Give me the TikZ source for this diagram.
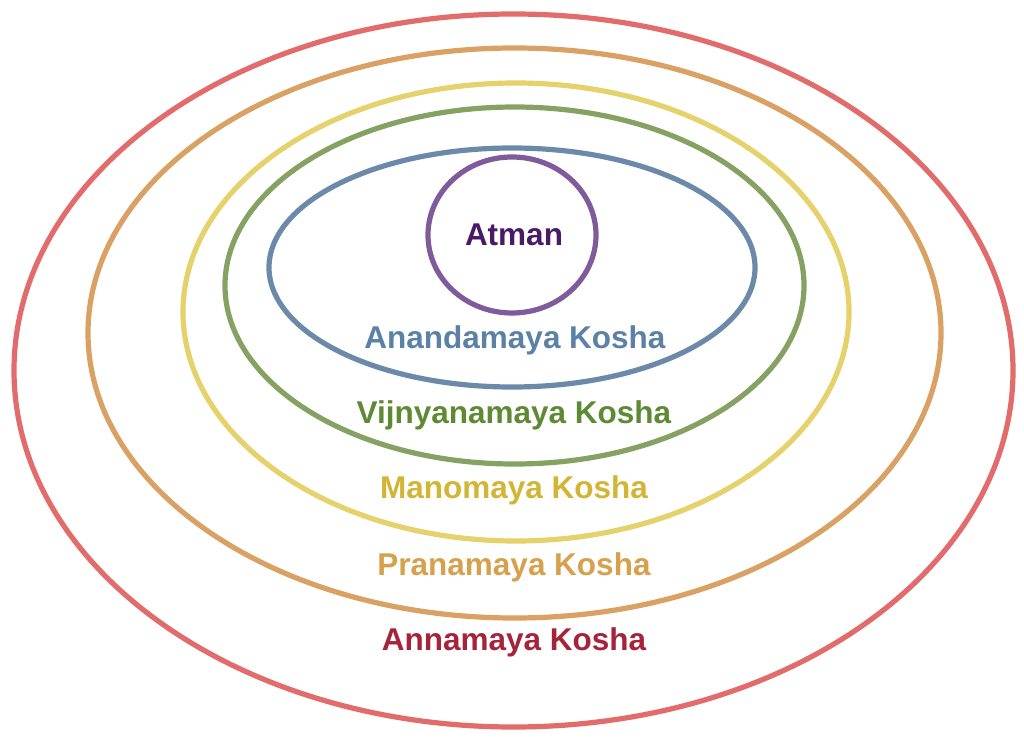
\documentclass[tikz,border=0pt]{standalone}
\usepackage{fontspec}
\setmainfont{Liberation Sans}
\definecolor{ringred}{HTML}{E26B6B}
\definecolor{ringorange}{HTML}{DAA165}
\definecolor{ringyellow}{HTML}{E6D26C}
\definecolor{ringgreen}{HTML}{85A262}
\definecolor{ringblue}{HTML}{6B89A9}
\definecolor{ringpurple}{HTML}{7F5B9B}
\definecolor{txtpurple}{HTML}{4A1A66}
\definecolor{txtblue}{HTML}{5B82A6}
\definecolor{txtgreen}{HTML}{5F8A34}
\definecolor{txtyellow}{HTML}{D3B535}
\definecolor{txtorange}{HTML}{D7A04C}
\definecolor{txtred}{HTML}{A6243A}
\tikzset{
  ring/.style={line width=5.2pt},
  label/.style={anchor=base, inner sep=0pt, font=\fontsize{31.5}{36}\selectfont\bfseries}
}
\begin{document}
\begin{tikzpicture}[x=1pt,y=-1pt]
\useasboundingbox[fill=white] (0,0) rectangle (1024,743);
\draw[ring, ringred]    (513.5,370.5) ellipse [x radius=499.5, y radius=356.5];
\draw[ring, ringorange] (514.5,333)   ellipse [x radius=426.5, y radius=285];
\draw[ring, ringyellow] (516,312)     ellipse [x radius=333, y radius=229];
\draw[ring, ringgreen]  (514.5,285.5) ellipse [x radius=289.5, y radius=178.5];
\draw[ring, ringblue]   (512,267.5)   ellipse [x radius=243, y radius=119.5];
\draw[ring, ringpurple] (512,235)     ellipse [x radius=84, y radius=78];
\node[label, text=txtpurple] (atman) at (514,245) {Atman};
\node[label, text=txtblue]   (ananda) at (515,348) {Anandamaya Kosha};
\node[label, text=txtgreen]  (vijn) at (514,423) {Vijnyanamaya Kosha};
\node[label, text=txtyellow] (mano) at (514,498) {Manomaya Kosha};
\node[label, text=txtorange] (prana) at (514,575) {Pranamaya Kosha};
\node[label, text=txtred]    (anna) at (514,650) {Annamaya Kosha};
\end{tikzpicture}
\end{document}
